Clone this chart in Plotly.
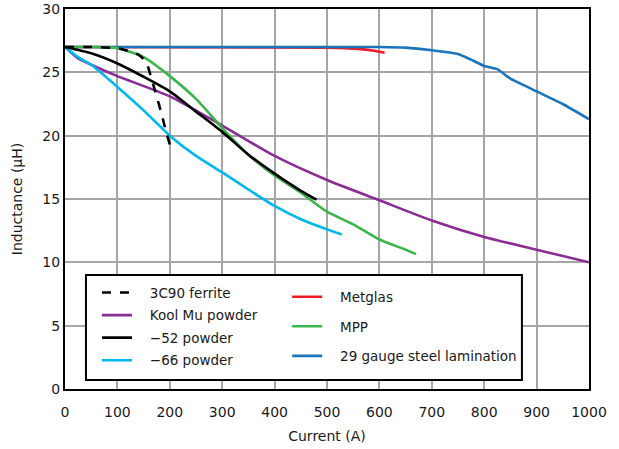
import plotly.graph_objects as go

# ---- data (Current in A, Inductance in µH) ----
ferrite_x = [0, 50, 100, 120, 140, 155, 165, 175, 185, 193, 200]
ferrite_y = [27, 27, 26.9, 26.7, 26.4, 25.8, 24.5, 23.1, 21.6, 20.3, 19.3]

koolmu_x = [0, 25, 50, 100, 200, 300, 400, 500, 600, 700, 800, 900, 1000]
koolmu_y = [27, 26.1, 25.6, 24.7, 23.1, 20.8, 18.4, 16.5, 14.9, 13.3, 12.0, 11.0, 10.0]

p52_x = [0, 50, 100, 150, 200, 250, 300, 350, 400, 450, 480]
p52_y = [27, 26.5, 25.7, 24.65, 23.5, 21.9, 20.3, 18.5, 17.0, 15.65, 14.95]

p66_x = [0, 25, 50, 100, 150, 200, 250, 300, 350, 400, 450, 500, 528]
p66_y = [27, 26.2, 25.6, 23.85, 22.0, 20.0, 18.4, 17.1, 15.75, 14.45, 13.4, 12.6, 12.2]

metglas_x = [0, 500, 560, 590, 610]
metglas_y = [27, 26.95, 26.85, 26.7, 26.55]

mpp_x = [0, 50, 100, 150, 200, 250, 300, 350, 400, 450, 500, 550, 600, 650, 670]
mpp_y = [27, 27, 26.9, 26.2, 24.7, 22.9, 20.6, 18.5, 16.85, 15.5, 14.0, 13.0, 11.8, 11.0, 10.65]

steel_x = [0, 600, 650, 700, 750, 775, 800, 825, 850, 900, 950, 1000]
steel_y = [27, 27, 26.95, 26.75, 26.45, 26.0, 25.5, 25.25, 24.5, 23.5, 22.5, 21.3]

x_ticks = [0, 100, 200, 300, 400, 500, 600, 700, 800, 900, 1000]
y_ticks = [0, 5, 10, 15, 20, 25, 30]

FONT = "DejaVu Sans"
LW = 2.6
PAD = "\u00a0\u00a0\u00a0"

fig = go.Figure()

def add(x, y, name, color, legend, rank, dash="solid", smooth=0.6):
    fig.add_trace(go.Scatter(
        x=x, y=y, name=PAD + name, mode="lines",
        line=dict(color=color, width=LW, dash=dash, shape="spline", smoothing=smooth),
        legend=legend, legendrank=rank, legendgroup="g%d" % rank,
    ))

# draw order so blue lies over red at the top
add(metglas_x, metglas_y, "Metglas", "#ED1C24", "legend2", 5)
add(steel_x, steel_y, "29 gauge steel lamination", "#1B75BC", "legend2", 7, smooth=0.4)
add(koolmu_x, koolmu_y, "Kool Mu powder", "#8B2C94", "legend", 2)
add(p66_x, p66_y, "\u221266 powder", "#00B7EF", "legend", 4)
add(mpp_x, mpp_y, "MPP", "#3AB54A", "legend2", 6)
add(p52_x, p52_y, "\u221252 powder", "#000000", "legend", 3)
add(ferrite_x, ferrite_y, "3C90 ferrite", "#000000", "legend", 1, dash="dash")

LEG_SIZE = 13.5

fig.update_layout(
    width=619, height=449,
    margin=dict(l=65, r=30, t=9, b=60, autoexpand=False),
    paper_bgcolor="white", plot_bgcolor="white",
    font=dict(family=FONT, size=14, color="#1a1a1a"),
    showlegend=True,
    legend=dict(
        x=0.061, y=0.294, xanchor="left", yanchor="top",
        bgcolor="rgba(0,0,0,0)", borderwidth=0,
        traceorder="grouped", tracegroupgap=2,
        font=dict(family=FONT, size=LEG_SIZE),
        itemwidth=30,
    ),
    legend2=dict(
        x=0.424, y=0.283, xanchor="left", yanchor="top",
        bgcolor="rgba(0,0,0,0)", borderwidth=0,
        traceorder="grouped", tracegroupgap=9,
        font=dict(family=FONT, size=LEG_SIZE),
        itemwidth=30,
    ),
    shapes=[dict(
        type="rect", xref="paper", yref="paper",
        x0=0.040, x1=0.872, y0=0.024, y1=0.30,
        line=dict(color="black", width=2), fillcolor="white", layer="above",
    )],
)

fig.update_xaxes(
    range=[0, 1000], tickvals=x_ticks, ticktext=[str(v) for v in x_ticks],
    showgrid=True, gridcolor="#A6A6A6", gridwidth=1.5,
    showline=True, linecolor="black", linewidth=2, mirror=True,
    ticks="", zeroline=False, automargin=False, ticklabelstandoff=9,
    title=dict(text="Current (A)", font=dict(family=FONT, size=14), standoff=12),
    tickfont=dict(family=FONT, size=14),
)
fig.update_yaxes(
    range=[0, 30], tickvals=y_ticks, ticktext=[str(v) for v in y_ticks],
    showgrid=True, gridcolor="#A6A6A6", gridwidth=1.5,
    showline=True, linecolor="black", linewidth=2, mirror=True,
    ticks="", zeroline=False, automargin=False,
    title=dict(text="Inductance (\u00b5H)", font=dict(family=FONT, size=14), standoff=16),
    tickfont=dict(family=FONT, size=14),
)

fig.write_html("out.html", config={"displayModeBar": False},
               post_script="document.body.style.margin='0';")
